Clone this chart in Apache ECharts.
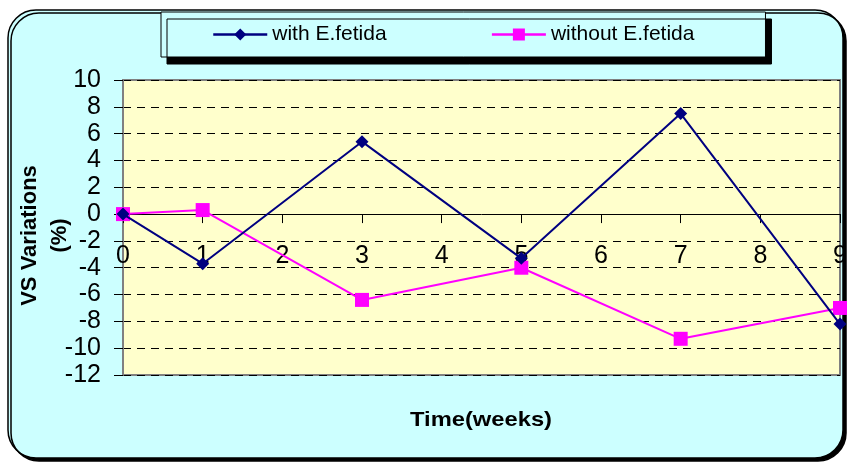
<!DOCTYPE html>
<html>
<head>
<meta charset="utf-8">
<script src="https://cdn.jsdelivr.net/npm/echarts@6/dist/echarts.min.js"></script>
<style>
  html, body { margin: 0; padding: 0; background: #ffffff; }
  #chart { width: 848px; height: 464px; }
</style>
</head>
<body>
<div id="chart"></div>
<script>
// weeks on the x axis
const weeks = [0, 1, 3, 5, 7, 9];
// VS variation (%) per series
const withFetida = [0, -3.7, 5.4, -3.3, 7.5, -8.2];
const withoutFetida = [0, 0.3, -6.4, -4.0, -9.3, -7.0];
const seriesNames = ['with E.fetida', 'without E.fetida'];

const yMin = -12, yMax = 10;
const gridTop = 80, gridBottom = 89, chartHeight = 464;

const pairs = (xs, ys) => xs.map((x, i) => [x, ys[i]]);

// x axis sits on y = 0: shift it up from the grid bottom by that distance
const plotHeight = chartHeight - gridTop - gridBottom;
const zeroOffset = -plotHeight * (0 - yMin) / (yMax - yMin);

const chart = echarts.init(document.getElementById('chart'), null, { renderer: 'canvas' });

chart.setOption({
    animation: false,
    textStyle: { fontFamily: 'Liberation Sans, Arial, sans-serif' },
    graphic: [
        {
            type: 'rect', z: -10, silent: true,
            shape: { x: 8, y: 10, width: 835, height: 448, r: 28 },
            style: {
                fill: '#CCFFFF', stroke: '#000000', lineWidth: 1.5,
                shadowColor: '#000000', shadowOffsetX: 3, shadowOffsetY: 3, shadowBlur: 0
            }
        },
        {
            type: 'text', silent: true,
            x: 481, y: 420, scaleX: 1.13,
            style: {
                text: 'Time(weeks)', fill: '#000000',
                font: 'bold 21px "Liberation Sans", Arial, sans-serif',
                align: 'center', verticalAlign: 'middle'
            }
        }
    ],
    legend: {
        left: 161, top: 12,
        padding: [12, 71, 12, 51],
        itemGap: 104,
        itemWidth: 54, itemHeight: 15,
        backgroundColor: '#CCFFFF',
        borderColor: '#000000', borderWidth: 1,
        shadowColor: '#000000', shadowOffsetX: 6, shadowOffsetY: 7, shadowBlur: 0,
        lineStyle: { width: 2.5 },
        textStyle: { fontSize: 21, color: '#000000', padding: [0, 0, 0, 0] },
        data: seriesNames
    },
    grid: {
        left: 123, right: 8, top: gridTop, bottom: gridBottom,
        outerBoundsMode: 'none',
        containLabel: false,
        show: true, backgroundColor: '#FFFFCC',
        borderColor: '#808080', borderWidth: 2
    },
    xAxis: {
        type: 'value', min: 0, max: 9, interval: 1,
        position: 'bottom',
        offset: zeroOffset,
        axisLine: { onZero: false, lineStyle: { color: '#000000', width: 1 } },
        axisTick: { show: true, length: 9, lineStyle: { color: '#000000' } },
        axisLabel: { fontSize: 25, color: '#000000', margin: 30 },
        splitLine: { show: false }
    },
    yAxis: {
        type: 'value', min: yMin, max: yMax, interval: 2,
        name: 'VS Variations\n(%)',
        nameLocation: 'middle', nameRotate: 90, nameGap: 48,
        nameMoveOverlap: false,
        nameTextStyle: {
            fontSize: 22, fontWeight: 'bold', color: '#000000', lineHeight: 30,
            padding: [0, 16, 0, 0]
        },
        axisLine: { show: true, onZero: false, lineStyle: { color: '#808080', width: 2 } },
        axisTick: { show: true, length: 9, lineStyle: { color: '#000000' } },
        axisLabel: { fontSize: 25, color: '#000000', margin: 22 },
        splitLine: { show: true, lineStyle: { color: '#000000', type: [8, 6], width: 1 } }
    },
    series: [
        {
            name: seriesNames[0], type: 'line',
            data: pairs(weeks, withFetida),
            symbol: 'diamond', symbolSize: 13,
            lineStyle: { color: '#000080', width: 2 },
            itemStyle: { color: '#000080' },
            z: 3
        },
        {
            name: seriesNames[1], type: 'line',
            data: pairs(weeks, withoutFetida),
            symbol: 'rect', symbolSize: 14,
            lineStyle: { color: '#FF00FF', width: 2 },
            itemStyle: { color: '#FF00FF' },
            z: 2
        }
    ]
});
</script>
</body>
</html>
